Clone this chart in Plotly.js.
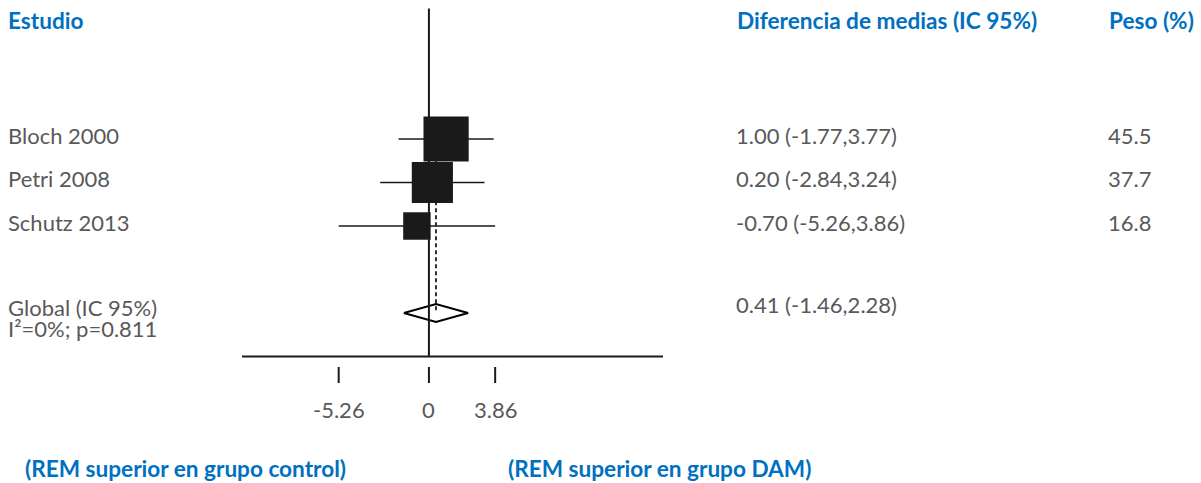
<!DOCTYPE html>
<html>
<head>
<meta charset="utf-8">
<script src="https://cdn.plot.ly/plotly-3.0.1.min.js"></script>
<style>html,body{margin:0;padding:0;background:#fff;}#chart{width:1201px;height:483px;}</style>
</head>
<body>
<div id="chart"></div>
<script>
// ---- data ----
const studies = ['Bloch 2000', 'Petri 2008', 'Schutz 2013'];
const meanDiff = [1.00, 0.20, -0.70];
const ciLow = [-1.77, -2.84, -5.26];
const ciHigh = [3.77, 3.24, 3.86];
const weights = [45.5, 37.7, 16.8];
const pooledLabel = 'Global (IC 95%)';
const pooledMean = 0.41;
const pooledLow = -1.46;
const pooledHigh = 2.28;
const heterogeneity = 'I\u00B2=0%; p=0.811';
const columnHeaders = ['Estudio', 'Diferencia de medias (IC 95%)', 'Peso (%)'];
const footerLabels = ['(REM superior en grupo control)', '(REM superior en grupo DAM)'];
const tickValues = [Math.min(...ciLow), 0, Math.max(...ciHigh)];

// ---- layout helpers ----
const W = 1201, H = 483;
const rows = studies.map((_, i) => i);
const pooledRow = 4;
const grey = '#595959';
const blue = '#0070C0';
const bodyFont = {family: 'Lato, "Open Sans", sans-serif', size: 22, color: grey};
const headFont = {family: 'Lato, "Open Sans", sans-serif', size: 22.6, color: blue, weight: 'bold'};
const px = v => v / W;
const py = v => 1 - v / H;
const fmt = v => v.toFixed(2);

const traces = [];
// dashed pooled-estimate line
traces.push({
  x: [pooledMean, pooledMean], y: [-0.5, pooledRow],
  mode: 'lines', line: {color: '#000', width: 1.6, dash: '4px,3px'},
  hoverinfo: 'skip', showlegend: false
});
// study squares with CIs
traces.push({
  x: meanDiff, y: rows,
  mode: 'markers',
  marker: {symbol: 'square', color: '#1a1a1a', opacity: 1, size: weights.map(w => 6.7 * Math.sqrt(w)), line: {width: 0}},
  error_x: {type: 'data', symmetric: false,
    array: meanDiff.map((m, i) => ciHigh[i] - m),
    arrayminus: meanDiff.map((m, i) => m - ciLow[i]),
    color: '#1a1a1a', thickness: 1.6, width: 0},
  hoverinfo: 'skip', showlegend: false
});
// pooled diamond
const dh = 0.205;
traces.push({
  x: [pooledLow, pooledMean, pooledHigh, pooledMean, pooledLow],
  y: [pooledRow, pooledRow - dh, pooledRow, pooledRow + dh, pooledRow],
  mode: 'lines', line: {color: '#000', width: 2},
  hoverinfo: 'skip', showlegend: false
});

const shapes = [];
// zero line
shapes.push({type: 'line', xref: 'x', yref: 'y', x0: 0, x1: 0, y0: -3.0, y1: 5.0,
  line: {color: '#1a1a1a', width: 2}, layer: 'above'});
// horizontal axis line
shapes.push({type: 'line', xref: 'paper', yref: 'y', x0: px(242), x1: px(663), y0: 5.0, y1: 5.0,
  line: {color: '#1a1a1a', width: 2}});
// tick marks
tickValues.forEach(t => shapes.push({type: 'line', xref: 'x', yref: 'paper', x0: t, x1: t,
  y0: py(367), y1: py(383), line: {color: '#1a1a1a', width: 2}}));

const ann = [];
const A = o => ann.push(Object.assign({showarrow: false, xanchor: 'left', yanchor: 'middle'}, o));
// headers
const headerX = [6, 735, 1107];
columnHeaders.forEach((h, i) => A({text: '<b>' + h + '</b>', xref: 'paper', yref: 'paper', x: px(headerX[i]), y: py(21), font: headFont}));
// study rows
studies.forEach((s, i) => {
  A({text: s, xref: 'paper', yref: 'y', x: px(6), y: rows[i], yshift: 4, font: bodyFont});
  A({text: fmt(meanDiff[i]) + ' (' + fmt(ciLow[i]) + ',' + fmt(ciHigh[i]) + ')', xref: 'paper', yref: 'y', x: px(734), y: rows[i], yshift: 4, font: bodyFont});
  A({text: weights[i].toFixed(1), xref: 'paper', yref: 'y', x: px(1106), y: rows[i], yshift: 4, font: bodyFont});
});
// pooled row
A({text: pooledLabel, xref: 'paper', yref: 'y', x: px(6), y: pooledRow, yshift: 6, font: bodyFont});
A({text: heterogeneity, xref: 'paper', yref: 'y', x: px(6), y: pooledRow, yshift: -15, font: bodyFont});
A({text: fmt(pooledMean) + ' (' + fmt(pooledLow) + ',' + fmt(pooledHigh) + ')', xref: 'paper', yref: 'y', x: px(734), y: pooledRow, yshift: 9, font: bodyFont});
// tick labels
tickValues.forEach(t => A({text: t === 0 ? '0' : fmt(t), xref: 'x', yref: 'paper', x: t, y: py(409), xanchor: 'center', font: bodyFont}));
// footers
const footerX = [23, 506];
footerLabels.forEach((f, i) => A({text: '<b>' + f + '</b>', xref: 'paper', yref: 'paper', x: px(footerX[i]), y: py(468), font: headFont}));

const rowPx = 43.5, row0 = 139;
const layout = {
  width: W, height: H,
  margin: {l: 0, r: 0, t: 0, b: 0, pad: 0},
  paper_bgcolor: '#fff', plot_bgcolor: '#fff',
  xaxis: {range: [-25, 45], visible: false, fixedrange: true},
  yaxis: {range: [(H - row0) / rowPx, -row0 / rowPx], visible: false, fixedrange: true},
  shapes: shapes, annotations: ann, showlegend: false
};
Plotly.newPlot('chart', traces, layout, {staticPlot: true, displayModeBar: false});
</script>
</body>
</html>
